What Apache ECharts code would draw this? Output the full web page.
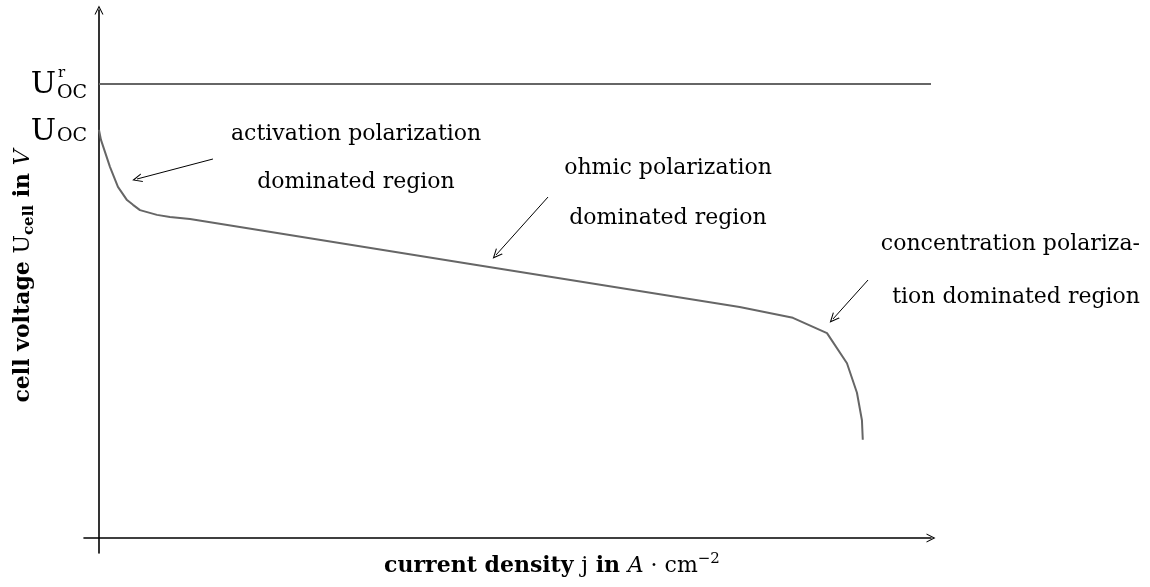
<!DOCTYPE html>
<html>
<head>
<meta charset="utf-8">
<script src="https://cdn.jsdelivr.net/npm/echarts@6/dist/echarts.min.js"></script>
<style>
html,body{margin:0;padding:0;background:#fff;}
#chart{width:1150px;height:587px;}
</style>
</head>
<body>
<div id="chart"></div>
<script>
// polarization curve (arbitrary units: j 0..100, U 0..100)
var currentDensity = [0, 0.24, 1.32, 2.28, 3.37, 4.09, 4.93, 6.97, 8.53, 10.94, 45, 77.0, 83.4, 87.5, 89.9, 91.1, 91.7, 91.8];
var cellVoltage    = [77.3, 75.4, 70.3, 66.5, 64.0, 63.1, 62.1, 61.2, 60.8, 60.4, 51.8, 43.75, 41.7, 38.8, 33.1, 27.5, 22.3, 18.6];
var reversibleOCV  = 86.0;
var jRange = [0, 100];

// annotation arrows: [from, to] in data units
var arrowFrom = [[13.70, 71.78], [53.97, 64.58], [92.43, 48.86]];
var arrowTo   = [[4.57, 67.99], [47.72, 53.60], [88.22, 41.48]];

var curveData = currentDensity.map(function (j, i) { return [j, cellVoltage[i]]; });
var ocvLine = [[jRange[0], reversibleOCV], [jRange[1], reversibleOCV]];
var arrowLines = arrowFrom.map(function (p, i) {
  return [{ coord: p }, { coord: arrowTo[i] }];
});

var chevron = 'path://M0,10 L5,0 L10,10 L8.8,10 L5,2.6 L1.2,10 Z';
var serif = 'DejaVu Serif';

function txt(x, y, text, align, size) {
  return {
    type: 'text', x: x, y: y, silent: true,
    style: {
      text: text, align: align || 'center', verticalAlign: 'middle',
      font: (size || 22) + 'px "' + serif + '"', fill: '#000'
    }
  };
}

function f(w, size, style) {
  return (style ? style + ' ' : '') + (w || 'normal') + ' ' + size + 'px "' + serif + '"';
}

var option = {
  animation: false,
  grid: { left: 84, right: 219, top: 10, bottom: 34 },
  xAxis: {
    type: 'value', min: -1.8, max: 100,
    axisLine: { show: true, onZero: true, symbol: ['none', chevron], symbolSize: [11, 9],
      lineStyle: { color: '#000', width: 1.6 } },
    axisTick: { show: false }, axisLabel: { show: false }, splitLine: { show: false }
  },
  yAxis: {
    type: 'value', min: -2.84, max: 100,
    axisLine: { show: true, onZero: true, symbol: ['none', chevron], symbolSize: [11, 9],
      lineStyle: { color: '#000', width: 1.6 } },
    axisTick: { show: false }, axisLabel: { show: false }, splitLine: { show: false }
  },
  series: [
    {
      type: 'line', data: ocvLine, symbol: 'none', silent: true,
      lineStyle: { color: '#666', width: 2 }
    },
    {
      type: 'line', data: curveData, symbol: 'none', silent: true,
      lineStyle: { color: '#666', width: 2 },
      markLine: {
        silent: true, symbol: ['none', chevron], symbolSize: [9, 10],
        label: { show: false },
        lineStyle: { color: '#000', width: 1, type: 'solid' },
        data: arrowLines
      }
    }
  ],
  graphic: [
    // U^r_OC and U_OC
    txt(56, 85, 'U', 'right', 30),
    txt(57, 93, 'OC', 'left', 19),
    txt(58, 73, 'r', 'left', 15),
    txt(56, 132, 'U', 'right', 30),
    txt(57, 136, 'OC', 'left', 19),
    // annotations
    txt(231, 134, 'activation polarization', 'left'),
    txt(356, 182, 'dominated region'),
    txt(668, 168, 'ohmic polarization'),
    txt(668, 218, 'dominated region'),
    txt(1140, 244, 'concentration polariza-', 'right'),
    txt(1140, 297, 'tion dominated region', 'right'),
    // axis titles
    {
      type: 'text', x: 552, y: 566, silent: true,
      style: {
        text: '{b|current density }{m|j}{b| in }{i|A}{m| · cm}{sup|−2}',
        align: 'center', verticalAlign: 'middle',
        rich: {
          b: { font: f('bold', 22), fill: '#000', lineHeight: 28 },
          m: { font: f('normal', 22), fill: '#000', lineHeight: 28 },
          i: { font: f('normal', 22, 'italic'), fill: '#000', lineHeight: 28 },
          sup: { font: f('normal', 15), fill: '#000', lineHeight: 15, verticalAlign: 'top' }
        }
      }
    },
    {
      type: 'text', x: 23, y: 276, rotation: Math.PI / 2, silent: true,
      style: {
        text: '{b|cell voltage }{m|U}{sub|cell}{b| in }{i|V}',
        align: 'center', verticalAlign: 'middle',
        rich: {
          b: { font: f('bold', 22), fill: '#000', lineHeight: 28 },
          m: { font: f('normal', 22), fill: '#000', lineHeight: 28 },
          i: { font: f('normal', 22, 'italic'), fill: '#000', lineHeight: 28 },
          sub: { font: f('bold', 15), fill: '#000', lineHeight: 15, verticalAlign: 'bottom' }
        }
      }
    }
  ]
};

var myChart = echarts.init(document.getElementById('chart'));
myChart.setOption(option);
</script>
</body>
</html>
